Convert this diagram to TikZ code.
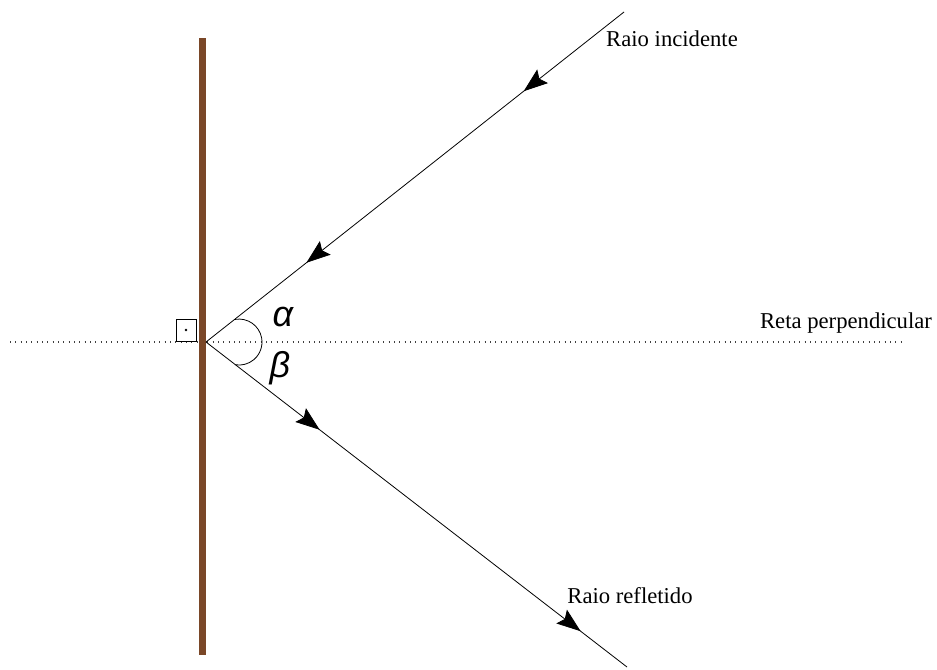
\documentclass[tikz,border=0pt]{standalone}
\usepackage{fontspec}
\setmainfont{Liberation Serif}
\newfontfamily\greekfont{Liberation Sans}
\usetikzlibrary{arrows.meta, positioning, decorations.markings}
\definecolor{mirror}{HTML}{7A4728}

\begin{document}
\begin{tikzpicture}[x=0.75pt, y=-0.75pt,
    every node/.style={font=\fontsize{17}{20}\selectfont},
    lbl/.style={inner sep=0pt, anchor=base},
    grk/.style={inner sep=0pt, font=\greekfont\itshape\fontsize{27}{30}\selectfont},
    ray/.style={line width=0.6pt, postaction={decorate}},
    perp/.style={line width=0.8pt, dash pattern=on 0.8pt off 3.2pt, black!75}
]
    \useasboundingbox (0,0) rectangle (937,669);
    % pontos principais
    \coordinate (O) at (206,342);
    \coordinate (src) at (624,12);
    \coordinate (dst) at (627,667);
    \coordinate (mtop) at (202.5,38);
    \coordinate (mbot) at (202.5,655);
    \coordinate (pl) at (10,342);
    \coordinate (pr) at (905,342);
    % reta perpendicular e espelho
    \draw[perp] (pl) -- (pr);
    \draw[mirror, line width=4.6pt] (mtop) -- (mbot);
    % raios
    \draw[ray, decoration={markings,
        mark=at position 0.24 with {\arrow{Stealth[length=18pt, width=13pt, inset=3pt]}},
        mark=at position 0.76 with {\arrow{Stealth[length=18pt, width=13pt, inset=3pt]}}}]
        (src) -- (O);
    \draw[ray, decoration={markings,
        mark=at position 0.27 with {\arrow{Stealth[length=18pt, width=13pt, inset=3pt]}},
        mark=at position 0.89 with {\arrow{Stealth[length=18pt, width=13pt, inset=3pt]}}}]
        (O) -- (dst);
    % angulos
    \coordinate (a1) at (235,319.4);
    \draw[line width=0.6pt] (a1) arc[start angle=-100, end angle=100, radius=23];
    \node[draw, line width=0.6pt, minimum width=15pt, minimum height=16.5pt, inner sep=0pt] (sq) at (186,330) {};
    \fill (sq.center) circle (1.1pt);
    \node[grk] (alpha) at (283,317) {α};
    \node[grk] (beta) at (280,368) {β};
    % textos
    \node[lbl] (inc) at (672,46) {Raio incidente};
    \node[lbl] (perpl) at (846,328) {Reta perpendicular};
    \node[lbl] (refl) at (630,603) {Raio refletido};
\end{tikzpicture}
\end{document}
